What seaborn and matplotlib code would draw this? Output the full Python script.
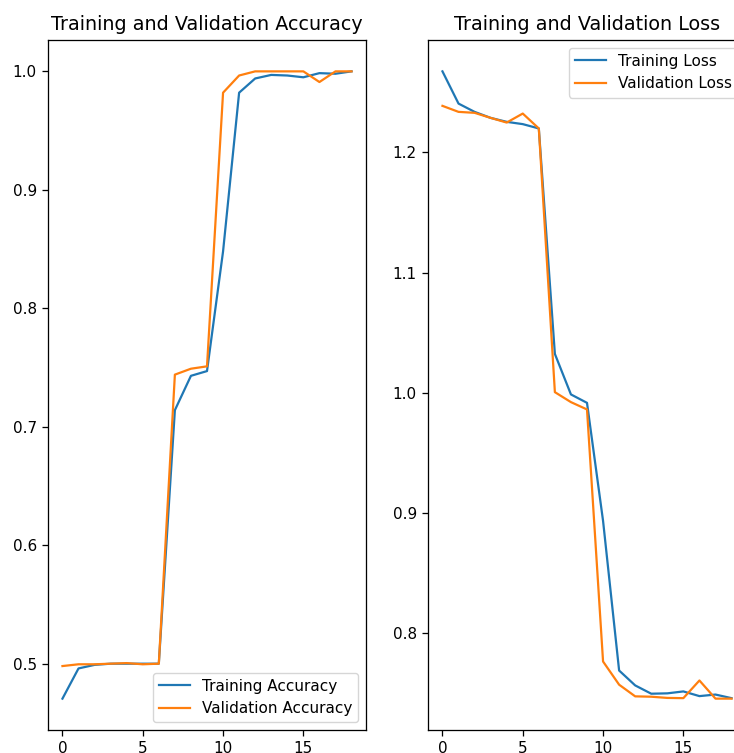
import matplotlib
matplotlib.use("Agg")
import matplotlib.pyplot as plt
import seaborn as sns
import numpy as np

epochs = list(range(19))
train_acc = [0.4705, 0.496, 0.499, 0.500, 0.500, 0.500, 0.500, 0.714, 0.743, 0.747,
             0.848, 0.982, 0.994, 0.997, 0.9965, 0.995, 0.9985, 0.998, 1.0]
val_acc = [0.498, 0.4995, 0.4995, 0.500, 0.5005, 0.4995, 0.500, 0.744, 0.749, 0.751,
           0.982, 0.9965, 1.0, 1.0, 1.0, 1.0, 0.991, 1.0, 1.0]
train_loss = [1.2675, 1.2407, 1.2338, 1.2288, 1.2255, 1.2236, 1.220, 1.0324, 0.9987, 0.9917,
              0.8935, 0.769, 0.7566, 0.7497, 0.750, 0.7516, 0.7477, 0.749, 0.746]
val_loss = [1.2388, 1.2338, 1.233, 1.2288, 1.2249, 1.2324, 1.220, 1.0006, 0.9923, 0.9862,
            0.7765, 0.7572, 0.7475, 0.7472, 0.7462, 0.746, 0.7607, 0.7456, 0.7456]

s = 1.15
plt.rcParams.update({
    "axes.linewidth": 0.8 * s,
    "xtick.major.size": 3.5 * s,
    "ytick.major.size": 3.5 * s,
    "xtick.major.width": 0.8 * s,
    "ytick.major.width": 0.8 * s,
    "xtick.major.pad": 3.5 * s,
    "ytick.major.pad": 3.5 * s,
    "axes.titlepad": 6 * s,
})

W, H = 734, 753
fig = plt.figure(figsize=(W / 100, H / 100), dpi=100)
ax1 = fig.add_axes([48 / W, (H - 730) / H, 318 / W, 690 / H])
ax2 = fig.add_axes([428 / W, (H - 730) / H, 318 / W, 690 / H])

lw = 1.6
sns.lineplot(x=epochs, y=train_acc, ax=ax1, color="#1f77b4", label="Training Accuracy", linewidth=lw)
sns.lineplot(x=epochs, y=val_acc, ax=ax1, color="#ff7f0e", label="Validation Accuracy", linewidth=lw)
ax1.legend(loc="lower right", fontsize=11)
ax1.set_title("Training and Validation Accuracy", fontsize=12 * s)

sns.lineplot(x=epochs, y=train_loss, ax=ax2, color="#1f77b4", label="Training Loss", linewidth=lw)
sns.lineplot(x=epochs, y=val_loss, ax=ax2, color="#ff7f0e", label="Validation Loss", linewidth=lw)
ax2.legend(loc="upper right", fontsize=11)
ax2.set_title("Training and Validation Loss", fontsize=12 * s)

for ax in (ax1, ax2):
    ax.set_xticks([0, 5, 10, 15])
    ax.tick_params(labelsize=11)
ax1.set_yticks([0.5, 0.6, 0.7, 0.8, 0.9, 1.0])
ax2.set_yticks([0.8, 0.9, 1.0, 1.1, 1.2])

fig.savefig("out.png", dpi=100)
